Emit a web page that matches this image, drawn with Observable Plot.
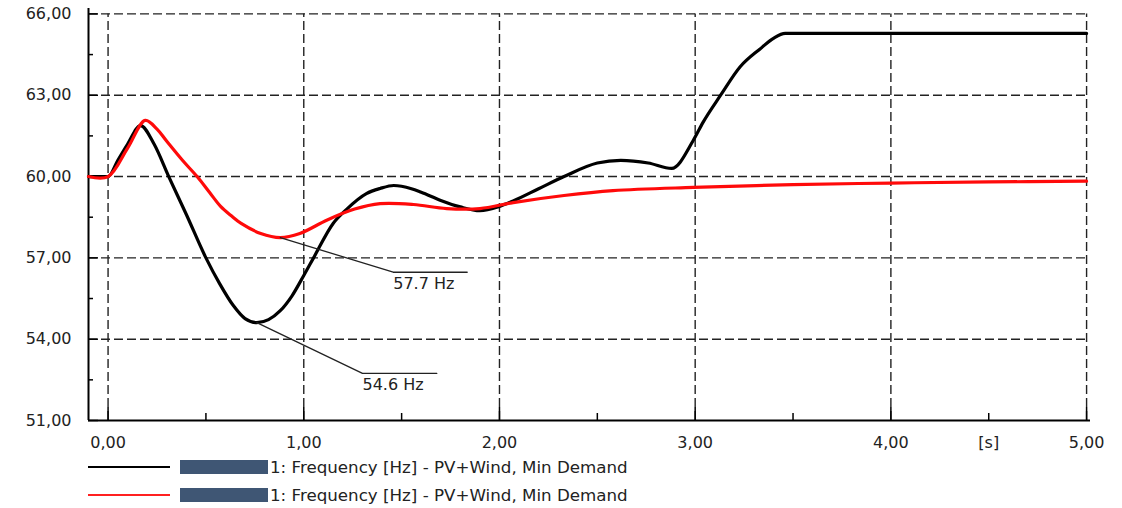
<!DOCTYPE html>
<html>
<head>
<meta charset="utf-8">
<script src="https://cdn.jsdelivr.net/npm/d3@7"></script>
<script src="https://cdn.jsdelivr.net/npm/@observablehq/plot@0.6"></script>
<style>
  body { margin: 0; background: #fff; font-family: "DejaVu Sans", sans-serif; }
  #wrap { position: relative; width: 1122px; height: 508px; }
  .leg { position: absolute; left: 88px; height: 20px; display: flex; align-items: center; font-size: 16.7px; color: #222; white-space: nowrap; }
  .leg .sw { width: 82px; height: 0; border-top: 2px solid #000; margin-right: 10px; }
  .leg .red { border-top-color: #ff2020; }
  .leg .box { display: inline-block; width: 88px; height: 14px; background: #3f5674; margin-right: 2px; }
</style>
</head>
<body>
<div id="wrap"></div>
<script>
// ---- data ----
const blackT = [-0.1, 0, 0.05, 0.1, 0.166, 0.235, 0.31, 0.4, 0.5, 0.57, 0.64, 0.70, 0.76, 0.82, 0.88, 0.94, 1.0, 1.05, 1.15, 1.22, 1.32, 1.39, 1.46, 1.55, 1.6, 1.7, 1.8, 1.9, 2.0, 2.07, 2.2, 2.33, 2.5, 2.62, 2.76, 2.88, 2.99, 3.04, 3.13, 3.23, 3.33, 3.4, 3.46, 4.0, 5.0];
const blackV = [60, 60, 60.6, 61.2, 61.88, 61.2, 60.0, 58.6, 57.0, 56.05, 55.24, 54.76, 54.61, 54.72, 55.05, 55.6, 56.35, 57.0, 58.27, 58.8, 59.37, 59.56, 59.67, 59.55, 59.42, 59.12, 58.88, 58.74, 58.9, 59.1, 59.55, 60.0, 60.5, 60.6, 60.5, 60.3, 61.33, 62.0, 63.0, 64.05, 64.7, 65.1, 65.28, 65.28, 65.28];
const redT = [-0.1, 0, 0.1, 0.19, 0.25, 0.3, 0.38, 0.455, 0.52, 0.575, 0.63, 0.68, 0.78, 0.88, 0.98, 1.12, 1.26, 1.39, 1.56, 1.73, 1.9, 2.07, 2.33, 2.58, 2.99, 3.5, 4.0, 4.5, 5.0];
const redV = [60, 60, 61.05, 62.07, 61.75, 61.3, 60.6, 60.0, 59.4, 58.9, 58.55, 58.27, 57.9, 57.75, 57.9, 58.4, 58.8, 59.0, 58.97, 58.82, 58.82, 59.04, 59.3, 59.48, 59.6, 59.7, 59.76, 59.8, 59.83];

const annoRedT = [0.88, 1.457, 1.835];
const annoRedV = [57.75, 56.47, 56.47];
const annoBlackT = [0.76, 1.30, 1.68];
const annoBlackV = [54.61, 52.74, 52.74];
const annoLabels = ["57.7 Hz", "54.6 Hz"];
const annoLabelT = [1.457, 1.30];
const annoLabelV = [56.05, 52.3];

const xTicks = [0, 1, 2, 3, 4, 4.5, 5];
const xMinor = [0.5, 1.5, 2.5, 3.5, 4.5];
const xGrid = [0, 1, 2, 3, 4, 5];
const yTicks = [51, 54, 57, 60, 63, 66];
const yMinor = [52.5, 55.5, 58.5, 61.5, 64.5];
const yGrid = [54, 57, 60, 63, 66];
const unitLabel = "[s]";
const seriesLabel = "1: Frequency [Hz] - PV+Wind, Min Demand";

const fmt = d => d.toFixed(2).replace(".", ",");
const blackData = blackT.map((t, i) => ({t, v: blackV[i]}));
const redData = redT.map((t, i) => ({t, v: redV[i]}));
const annoRed = annoRedT.map((t, i) => ({t, v: annoRedV[i]}));
const annoBlack = annoBlackT.map((t, i) => ({t, v: annoBlackV[i]}));
const annoText = annoLabels.map((s, i) => ({s, t: annoLabelT[i], v: annoLabelV[i]}));

const W = 1122, H = 455, mL = 88, mR = 32, mT = 8, mB = 35;
const frameW = W - mL - mR, frameH = H - mT - mB;
const dash = "9,4";

const chart = Plot.plot({
  width: W, height: H,
  marginLeft: mL, marginRight: mR, marginTop: mT, marginBottom: mB,
  style: { fontFamily: "DejaVu Sans, sans-serif", fontSize: "16px", color: "#222", background: "#fff" },
  x: { domain: [-0.1, 5.02], label: null },
  y: { domain: [51, 66.2], label: null },
  marks: [
    Plot.ruleX(xGrid, { x: d => d, y1: 51, y2: 66, stroke: "#222", strokeWidth: 1.4, strokeDasharray: dash }),
    Plot.ruleY(yGrid, { y: d => d, x1: -0.1, x2: 5, stroke: "#222", strokeWidth: 1.4, strokeDasharray: dash }),
    Plot.tickY(yTicks, { y: d => d, insetRight: frameW - 10, stroke: "#000", strokeWidth: 1.5 }),
    Plot.tickY(yMinor, { y: d => d, insetRight: frameW - 5, stroke: "#000", strokeWidth: 1.5 }),
    Plot.tickX(xGrid, { x: d => d, insetTop: frameH - 13, stroke: "#000", strokeWidth: 1.5 }),
    Plot.tickX(xMinor, { x: d => d, insetTop: frameH - 7, stroke: "#000", strokeWidth: 1.5 }),
    Plot.ruleX([-0.1], { x: d => d, y1: 51, y2: 66.2, stroke: "#000", strokeWidth: 2 }),
    Plot.ruleY([51], { y: d => d, x1: -0.1, x2: 5.02, stroke: "#000", strokeWidth: 2 }),
    Plot.axisY(yTicks, { anchor: "left", tickSize: 0, tickPadding: 17, tickFormat: fmt, label: null }),
    Plot.axisX(xTicks, { anchor: "bottom", tickSize: 0, tickPadding: 16, tickFormat: d => d === 4.5 ? unitLabel : fmt(d), label: null }),
    Plot.line(blackData, { x: "t", y: "v", stroke: "#000", strokeWidth: 3.2, curve: "monotone-x" }),
    Plot.line(redData, { x: "t", y: "v", stroke: "#ff0a0a", strokeWidth: 3.2, curve: "catmull-rom" }),
    Plot.line(annoRed, { x: "t", y: "v", stroke: "#222", strokeWidth: 1.3 }),
    Plot.line(annoBlack, { x: "t", y: "v", stroke: "#222", strokeWidth: 1.3 }),
    Plot.text(annoText, { x: "t", y: "v", text: "s", textAnchor: "start", fill: "#222", fontSize: 16 })
  ]
});
const wrap = document.getElementById("wrap");
wrap.appendChild(chart);

const legendItems = [
  { cls: "", top: 457, label: seriesLabel },
  { cls: "red", top: 485, label: seriesLabel }
];
for (const it of legendItems) {
  const row = document.createElement("div");
  row.className = "leg";
  row.style.top = it.top + "px";
  row.innerHTML = `<span class="sw ${it.cls}"></span><span class="box"></span><span>${it.label}</span>`;
  wrap.appendChild(row);
}
</script>
</body>
</html>
